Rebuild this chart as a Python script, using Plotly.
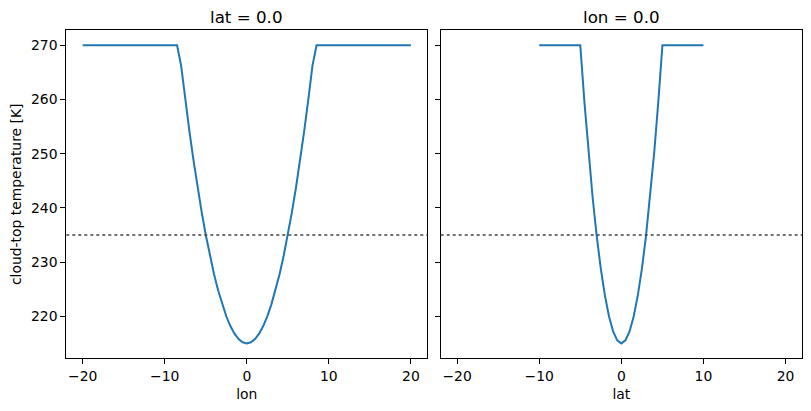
import plotly.graph_objects as go

# ---- data ----
lon = [-20.0, -19.5, -19.0, -18.5, -18.0, -17.5, -17.0, -16.5, -16.0, -15.5,
       -15.0, -14.5, -14.0, -13.5, -13.0, -12.5, -12.0, -11.5, -11.0, -10.5,
       -10.0, -9.5, -9.0, -8.5, -8.0, -7.5, -7.0, -6.5, -6.0, -5.5,
       -5.0, -4.5, -4.0, -3.5, -3.0, -2.5, -2.0, -1.5, -1.0, -0.5,
       0.0, 0.5, 1.0, 1.5, 2.0, 2.5, 3.0, 3.5, 4.0, 4.5,
       5.0, 5.5, 6.0, 6.5, 7.0, 7.5, 8.0, 8.5, 9.0, 9.5,
       10.0, 10.5, 11.0, 11.5, 12.0, 12.5, 13.0, 13.5, 14.0, 14.5,
       15.0, 15.5, 16.0, 16.5, 17.0, 17.5, 18.0, 18.5, 19.0, 19.5, 20.0]
temp_lon = [270, 270, 270, 270, 270, 270, 270, 270, 270, 270,
            270, 270, 270, 270, 270, 270, 270, 270, 270, 270,
            270, 270, 270, 270, 266.2, 260.0, 254.2, 248.8, 243.8, 239.2,
            235.0, 231.2, 227.8, 224.8, 222.2, 220.0, 218.2, 216.8, 215.8, 215.2,
            215.0, 215.2, 215.8, 216.8, 218.2, 220.0, 222.2, 224.8, 227.8, 231.2,
            235.0, 239.2, 243.8, 248.8, 254.2, 260.0, 266.2, 270, 270, 270,
            270, 270, 270, 270, 270, 270, 270, 270, 270, 270,
            270, 270, 270, 270, 270, 270, 270, 270, 270, 270, 270]

lat = [-10.0, -9.5, -9.0, -8.5, -8.0, -7.5, -7.0, -6.5, -6.0, -5.5,
       -5.0, -4.5, -4.0, -3.5, -3.0, -2.5, -2.0, -1.5, -1.0, -0.5,
       0.0, 0.5, 1.0, 1.5, 2.0, 2.5, 3.0, 3.5, 4.0, 4.5,
       5.0, 5.5, 6.0, 6.5, 7.0, 7.5, 8.0, 8.5, 9.0, 9.5, 10.0]
temp_lat = [270, 270, 270, 270, 270, 270, 270, 270, 270, 270,
            270, 259.55, 250.2, 241.95, 234.8, 228.75, 223.8, 219.95, 217.2, 215.55,
            215.0, 215.55, 217.2, 219.95, 223.8, 228.75, 234.8, 241.95, 250.2, 259.55,
            270, 270, 270, 270, 270, 270, 270, 270, 270, 270, 270]

threshold = 235.0
x_ticks = [-20, -10, 0, 10, 20]
y_ticks = [220, 230, 240, 250, 260, 270]
titles = ["lat = 0.0", "lon = 0.0"]
x_labels = ["lon", "lat"]
y_label = "cloud-top temperature [K]"

# ---- figure ----
W, H = 811, 411
FONT = "DejaVu Sans"
BLUE = "#1f77b4"

fig = go.Figure()
fig.add_trace(go.Scatter(x=lon, y=temp_lon, mode="lines",
                         line=dict(color=BLUE, width=2), xaxis="x", yaxis="y",
                         showlegend=False))
fig.add_trace(go.Scatter(x=lat, y=temp_lat, mode="lines",
                         line=dict(color=BLUE, width=2), xaxis="x2", yaxis="y2",
                         showlegend=False))

for xr, yr in (("x", "y"), ("x2", "y2")):
    fig.add_shape(type="line", xref=f"{xr} domain", yref=yr,
                  x0=0, x1=1, y0=threshold, y1=threshold,
                  line=dict(color="#444444", width=1.5, dash="dot"))

# pixel domains
top, bottom = 30.3, 358.3
ydom = [1 - bottom / H, 1 - top / H]
xdom1 = [66.3 / W, 427.3 / W]
xdom2 = [440.7 / W, 802.0 / W]

common_x = dict(range=[-22, 22], tickvals=x_ticks,
                ticktext=["\u221220", "\u221210", "0", "10", "20"],
                ticks="outside", ticklen=5, tickwidth=1.1, tickcolor="black",
                showline=True, linecolor="black", linewidth=1.1, mirror=True,
                showgrid=False, zeroline=False,
                tickfont=dict(family=FONT, size=13.9, color="black"))
common_y = dict(range=[212.25, 272.75], tickvals=y_ticks,
                ticks="outside", ticklen=5, tickwidth=1.1, tickcolor="black",
                showline=True, linecolor="black", linewidth=1.1, mirror=True,
                showgrid=False, zeroline=False, domain=ydom,
                tickfont=dict(family=FONT, size=13.9, color="black"))

fig.update_layout(
    width=W, height=H,
    margin=dict(l=0, r=0, t=0, b=0),
    paper_bgcolor="white", plot_bgcolor="white",
    font=dict(family=FONT, color="black"),
    xaxis=dict(domain=xdom1, anchor="y", **common_x,
               title=dict(text=x_labels[0], font=dict(family=FONT, size=13.9), standoff=6)),
    xaxis2=dict(domain=xdom2, anchor="y2", **common_x,
                title=dict(text=x_labels[1], font=dict(family=FONT, size=13.9), standoff=6)),
    yaxis=dict(anchor="x", **common_y,
               title=dict(text=y_label, font=dict(family=FONT, size=13.9), standoff=6)),
    yaxis2=dict(anchor="x2", matches="y", showticklabels=False, **common_y),
)

for i, (t, dom) in enumerate(zip(titles, (xdom1, xdom2))):
    fig.add_annotation(text=t, xref="paper", yref="paper",
                       x=(dom[0] + dom[1]) / 2, y=1 - 16.5 / H,
                       xanchor="center", yanchor="middle", showarrow=False,
                       font=dict(family=FONT, size=16.7, color="black"))

fig.write_html("out.html")
